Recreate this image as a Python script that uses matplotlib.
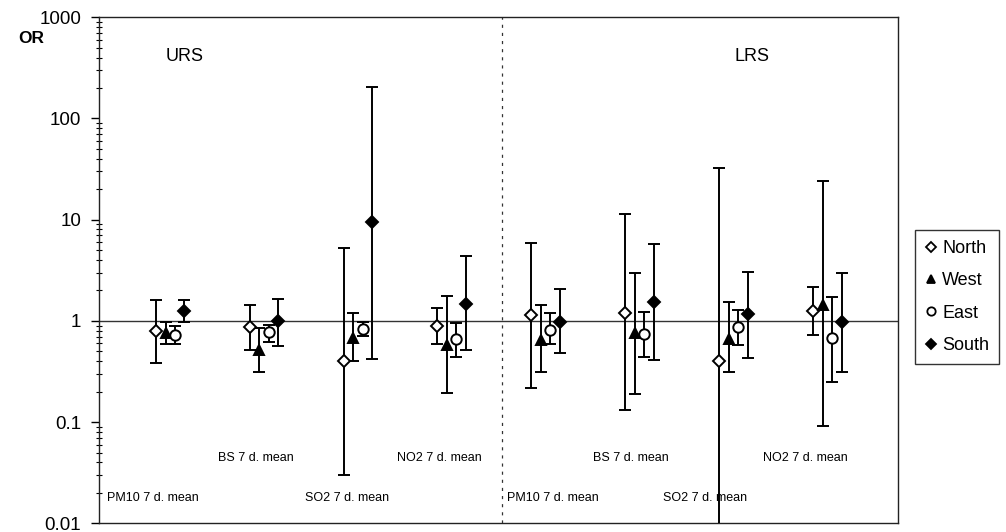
import numpy as np
import matplotlib.pyplot as plt
from matplotlib.lines import Line2D
from matplotlib.ticker import LogLocator, NullFormatter, FixedFormatter, FixedLocator

plt.rcParams['font.family'] = ['Liberation Sans', 'DejaVu Sans']

# odds ratios with 95% CI, per pollutant/region and wind direction
labels = ['PM10 7 d. mean', 'BS 7 d. mean', 'SO2 7 d. mean', 'NO2 7 d. mean',
          'PM10 7 d. mean', 'BS 7 d. mean', 'SO2 7 d. mean', 'NO2 7 d. mean']

north = [0.80, 0.87, 0.40, 0.89, 1.15, 1.19, 0.405, 1.26]
north_lo = [0.38, 0.52, 0.030, 0.59, 0.216, 0.132, 0.005, 0.73]
north_hi = [1.61, 1.44, 5.23, 1.34, 5.94, 11.4, 32.3, 2.18]

west = [0.76, 0.52, 0.67, 0.58, 0.64, 0.76, 0.66, 1.44]
west_lo = [0.59, 0.31, 0.40, 0.196, 0.315, 0.19, 0.31, 0.092]
west_hi = [0.98, 0.85, 1.19, 1.78, 1.42, 2.96, 1.55, 24.2]

east = [0.73, 0.77, 0.83, 0.66, 0.81, 0.74, 0.87, 0.67]
east_lo = [0.59, 0.62, 0.71, 0.44, 0.59, 0.44, 0.58, 0.25]
east_hi = [0.89, 0.91, 0.98, 0.96, 1.21, 1.22, 1.28, 1.74]

south = [1.26, 1.00, 9.58, 1.47, 0.98, 1.55, 1.16, 0.985]
south_lo = [0.98, 0.57, 0.42, 0.51, 0.48, 0.41, 0.43, 0.31]
south_hi = [1.61, 1.65, 204, 4.42, 2.06, 5.73, 3.07, 3.0]

series = [
    ('North', north, north_lo, north_hi, 'D', 'white', 6.5, -0.15),
    ('West', west, west_lo, west_hi, '^', 'black', 7.5, -0.045),
    ('East', east, east_lo, east_hi, 'o', 'white', 7.5, 0.052),
    ('South', south, south_lo, south_hi, 'D', 'black', 6.5, 0.152),
]

fig = plt.figure(figsize=(10.06, 5.32), dpi=100)
ax = fig.add_axes([0.0987, 0.0164, 0.7939, 0.9511])

x = np.arange(1, len(labels) + 1)

ax.axhline(1, color='#333333', lw=1.0, zorder=1)
ax.axvline(4.54, color='#333333', lw=0.9, ls=(0, (2.5, 4)), zorder=1)

handles = []
for name, val, lo, hi, mk, fc, ms, off in series:
    val = np.array(val)
    err = np.vstack([val - np.array(lo), np.array(hi) - val])
    ax.errorbar(x + off, val, yerr=err, fmt=mk, mfc=fc, mec='black', mew=1.4,
                ms=ms, ecolor='black', elinewidth=1.4, capsize=4.5,
                capthick=1.4, zorder=3)
    handles.append(Line2D([], [], ls='none', marker=mk, mfc=fc, mec='black',
                          mew=1.3, ms=ms - 1.5, label=name))

ax.set_yscale('log')
ax.set_ylim(0.01, 1000)
ax.set_xlim(0.2495, 8.752)

majors = [0.01, 0.1, 1, 10, 100, 1000]
ax.yaxis.set_major_locator(FixedLocator(majors))
ax.yaxis.set_major_formatter(FixedFormatter(['0.01', '0.1', '1', '10', '100', '1000']))
ax.yaxis.set_minor_locator(LogLocator(base=10, subs=np.arange(2, 10)))
ax.yaxis.set_minor_formatter(NullFormatter())
ax.tick_params(axis='y', which='major', direction='out', length=6, width=1,
               labelsize=13.5, pad=7)
ax.tick_params(axis='y', which='minor', direction='inout', length=4, width=0.8)
ax.set_xticks([])

for s in ax.spines.values():
    s.set_color('#222222')
    s.set_linewidth(1.0)

# category labels under each group
label_x = [0.33, 1.51, 2.44, 3.42, 4.59, 5.51, 6.25, 7.32]
label_y = [0.0178, 0.0443, 0.0178, 0.0443, 0.0178, 0.0443, 0.0178, 0.0443]
for lx, ly, t in zip(label_x, label_y, labels):
    ax.text(lx, ly, t, fontsize=9, ha='left', va='center')

ax.text(1.16, 406, 'URS', fontsize=13, ha='center', va='center')
ax.text(7.20, 406, 'LRS', fontsize=13, ha='center', va='center')

fig.text(0.018, 0.928, 'OR', fontsize=12.5, fontweight='bold', ha='left', va='center')

leg = fig.legend(handles=handles, loc='upper left', bbox_to_anchor=(0.9095, 0.5677),
                 frameon=True, fancybox=False, edgecolor='black', fontsize=13,
                 handlelength=0.7, handletextpad=0.25, labelspacing=0.85,
                 borderpad=0.55, borderaxespad=0)
leg.get_frame().set_linewidth(1.0)

fig.savefig('out.png', dpi=100)
